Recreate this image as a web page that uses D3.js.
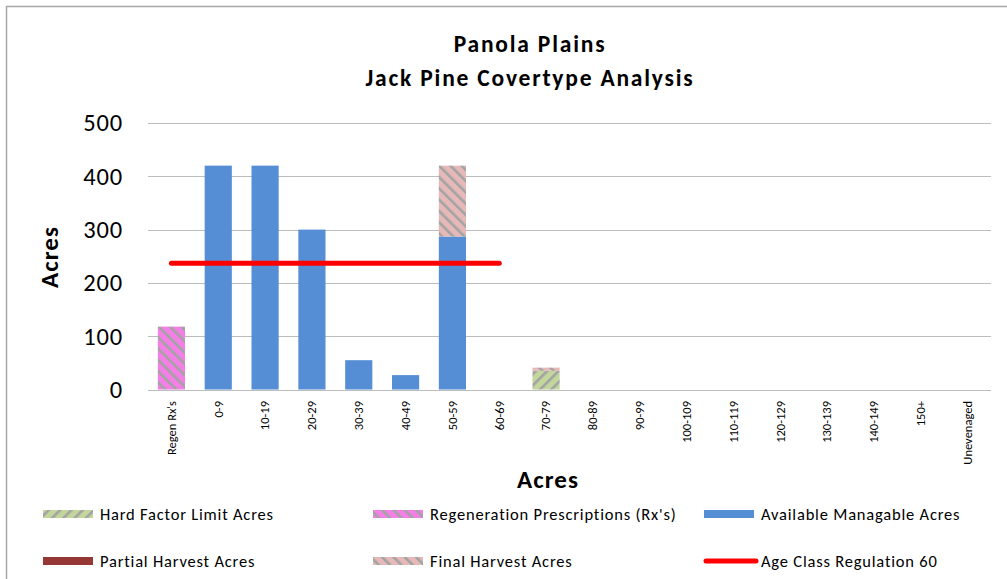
<!DOCTYPE html>
<html><head><meta charset="utf-8">
<script src="https://cdn.jsdelivr.net/npm/d3@7"></script>
<style>
html,body{margin:0;padding:0;background:#fff;}
svg{display:block;}
text{font-family:Carlito,Lato,"Open Sans",sans-serif;fill:#000;}
</style></head>
<body>
<script>
const categories = ["Regen Rx's","0-9","10-19","20-29","30-39","40-49","50-59","60-69","70-79","80-89","90-99","100-109","110-119","120-129","130-139","140-149","150+","Unevenaged"];
const hardFactor   = [0,0,0,0,0,0,0,0,35,0,0,0,0,0,0,0,0,0];
const regen        = [118,0,0,0,0,0,0,0,0,0,0,0,0,0,0,0,0,0];
const available    = [0,420,420,300,55,27,287,0,0,0,0,0,0,0,0,0,0,0];
const partial      = [0,0,0,0,0,0,0,0,0,0,0,0,0,0,0,0,0,0];
const finalHarvest = [0,0,0,0,0,0,133,0,6,0,0,0,0,0,0,0,0,0];
const regulationCats = ["Regen Rx's","60-69"];
const regulationValue = 237;
const yTicks = [0,100,200,300,400,500];
const seriesNames = ["Hard Factor Limit Acres","Regeneration Prescriptions (Rx's)","Available Managable Acres","Partial Harvest Acres","Final Harvest Acres","Age Class Regulation 60"];

const W = 1007, H = 579;
const svg = d3.select("body").append("svg").attr("width", W).attr("height", H);

// patterns
const defs = svg.append("defs");
function stripe(id, bg, dir){
  const p = defs.append("pattern").attr("id", id).attr("patternUnits","userSpaceOnUse")
    .attr("width", 8).attr("height", 8)
    .attr("patternTransform", `rotate(${dir})`);
  p.append("rect").attr("width",8).attr("height",8).attr("fill",bg);
  p.append("rect").attr("x",0).attr("y",0).attr("width",2.6).attr("height",8).attr("fill","#a3a3a3");
}
stripe("pGreen", "#c3d69b", 45);
stripe("pPink", "#f47fe6", -45);
stripe("pSalmon", "#e6b9b8", -45);

// border
svg.append("rect").attr("x",6.5).attr("y",6.5).attr("width",W+10).attr("height",H+10)
  .attr("fill","none").attr("stroke","#a6a6a6").attr("stroke-width",1.5);

const x = d3.scaleBand().domain(categories).range([148, 991]).paddingInner(0.42).paddingOuter(0.21);
const y = d3.scaleLinear().domain([0, 500]).range([389.5, 123]);

// gridlines
svg.append("g").selectAll("line").data(yTicks).join("line")
  .attr("x1",148).attr("x2",991).attr("y1",d=>Math.round(y(d))+0.5).attr("y2",d=>Math.round(y(d))+0.5)
  .attr("stroke","#bdbdbd").attr("stroke-width",1.2);

// y tick labels
svg.append("g").selectAll("text").data(yTicks).join("text")
  .attr("x",123).attr("y",d=>y(d)).attr("dy","0.34em").attr("text-anchor","end")
  .attr("font-size",24.5).attr("letter-spacing",0.8).attr("fill","#262626").text(d=>d);

// stacked bars
const seriesData = [
  {key:"hard", vals:hardFactor, fill:"url(#pGreen)"},
  {key:"regen", vals:regen, fill:"url(#pPink)"},
  {key:"avail", vals:available, fill:"#558ed5"},
  {key:"partial", vals:partial, fill:"#953735"},
  {key:"final", vals:finalHarvest, fill:"url(#pSalmon)"}
];
const rows = categories.map((c,i)=>{const r={cat:c}; seriesData.forEach(s=>r[s.key]=s.vals[i]); return r;});
const stack = d3.stack().keys(seriesData.map(s=>s.key))(rows);
stack.forEach((layer,li)=>{
  svg.append("g").selectAll("rect").data(layer.filter(d=>d[1]-d[0]>0)).join("rect")
    .attr("x",d=>x(d.data.cat)).attr("width",x.bandwidth())
    .attr("y",d=>y(d[1])).attr("height",d=>y(d[0])-y(d[1]))
    .attr("fill",seriesData[li].fill);
});

// regulation line
const c0 = x(regulationCats[0])+x.bandwidth()/2, c1 = x(regulationCats[1])+x.bandwidth()/2;
svg.append("line").attr("x1",c0).attr("x2",c1).attr("y1",y(regulationValue)).attr("y2",y(regulationValue))
  .attr("stroke","#ff0000").attr("stroke-width",5).attr("stroke-linecap","round");

// category labels
svg.append("g").selectAll("text").data(categories).join("text")
  .attr("transform",d=>`translate(${x(d)+x.bandwidth()/2},401) rotate(-90)`)
  .attr("dy","0.35em").attr("text-anchor","end").attr("font-size",12.5).attr("fill","#000")
  .text(d=>d);

// titles
svg.append("text").attr("x",530).attr("y",52).attr("text-anchor","middle")
  .attr("font-size",23.5).attr("letter-spacing",1.8).attr("font-weight","bold").text("Panola Plains");
svg.append("text").attr("x",530).attr("y",86).attr("text-anchor","middle")
  .attr("font-size",23.5).attr("letter-spacing",1.8).attr("font-weight","bold").text("Jack Pine Covertype Analysis");
svg.append("text").attr("transform","translate(58,257) rotate(-90)").attr("text-anchor","middle")
  .attr("font-size",25).attr("letter-spacing",1).attr("font-weight","bold").text("Acres");
svg.append("text").attr("x",548).attr("y",488).attr("text-anchor","middle")
  .attr("font-size",25).attr("letter-spacing",1).attr("font-weight","bold").text("Acres");

// legend
const legPos = [[43,514],[373,514],[704,514],[43,561],[373,561],[704,561]];
const legFill = ["url(#pGreen)","url(#pPink)","#558ed5","#953735","url(#pSalmon)",null];
const lg = svg.append("g").selectAll("g").data(seriesNames).join("g")
  .attr("transform",(d,i)=>`translate(${legPos[i][0]},${legPos[i][1]})`);
lg.each(function(d,i){
  const g = d3.select(this);
  if(legFill[i]) g.append("rect").attr("x",0).attr("y",-4).attr("width",50).attr("height",8).attr("fill",legFill[i]);
  else g.append("line").attr("x1",2).attr("x2",52).attr("y1",0).attr("y2",0).attr("stroke","#ff0000").attr("stroke-width",5).attr("stroke-linecap","round");
  g.append("text").attr("x",57).attr("y",0).attr("dy","0.34em").attr("font-size",16.5).attr("letter-spacing",0.8).attr("fill","#000").text(d);
});
</script>
</body></html>
